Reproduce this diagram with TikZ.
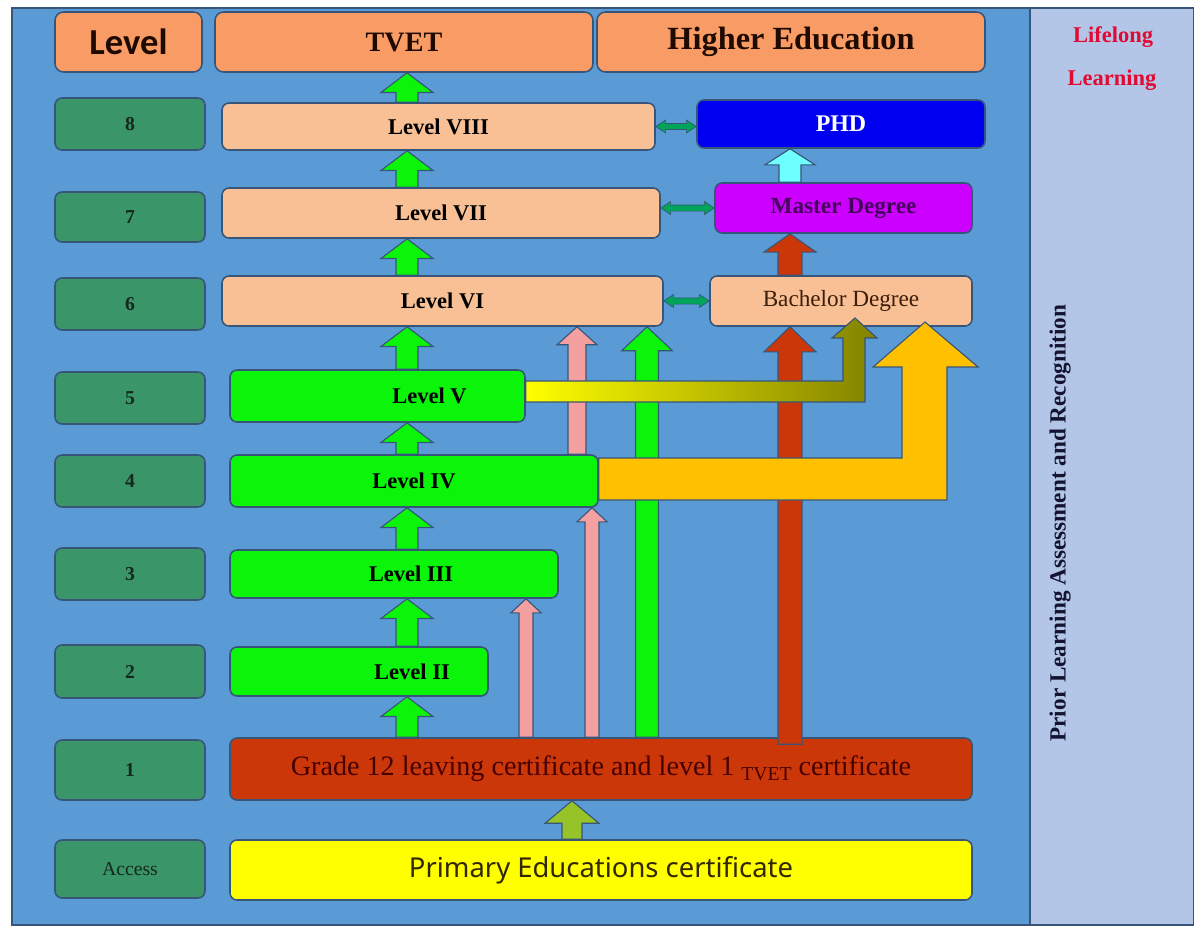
\documentclass[tikz,border=0pt]{standalone}
\usepackage{fontspec}
\setmainfont{Liberation Serif}
\newfontfamily\hdfont{Carlito}
\newfontfamily\primfont{Noto Sans}
\usetikzlibrary{calc}

\definecolor{panelblue}{RGB}{91,155,213}
\definecolor{sidelav}{RGB}{180,198,231}
\definecolor{bordc}{RGB}{55,85,120}
\definecolor{headorange}{RGB}{248,155,100}
\definecolor{numgreen}{RGB}{58,150,105}
\definecolor{peach}{RGB}{248,192,148}
\definecolor{lvlgreen}{RGB}{10,245,10}
\definecolor{certred}{RGB}{204,55,10}
\definecolor{primyellow}{RGB}{255,255,0}
\definecolor{phdblue}{RGB}{0,0,240}
\definecolor{masmag}{RGB}{204,0,255}
\definecolor{pinkarr}{RGB}{245,160,160}
\definecolor{cyanarr}{RGB}{110,255,255}
\definecolor{goldarr}{RGB}{255,192,0}
\definecolor{olivearr}{RGB}{130,130,0}
\definecolor{primarr}{RGB}{150,195,40}
\definecolor{linkgreen}{RGB}{0,165,90}
\definecolor{lllred}{RGB}{225,10,50}

\newcommand{\blockup}[6][]{%
	\filldraw[draw=bordc, line width=0.8pt, #1] let \p1=#2, \p2=#3 in
		(\x1-#4,\y1) -- (\x1-#4,\y2-#6) -- (\x1-#5,\y2-#6) -- (\x1,\y2)
		-- (\x1+#5,\y2-#6) -- (\x1+#4,\y2-#6) -- (\x1+#4,\y1) -- cycle;}
\newcommand{\linkarrow}[2]{%
	\filldraw[fill=linkgreen, draw=bordc, line width=0.5pt] let \p1=#1, \p2=#2 in
		(\x1,\y1) -- (\x1+7pt,\y1+4.6pt) -- (\x1+7pt,\y1+2.2pt) -- (\x2-7pt,\y1+2.2pt)
		-- (\x2-7pt,\y1+4.6pt) -- (\x2,\y1) -- (\x2-7pt,\y1-4.6pt) -- (\x2-7pt,\y1-2.2pt)
		-- (\x1+7pt,\y1-2.2pt) -- (\x1+7pt,\y1-4.6pt) -- cycle;}

\tikzset{
	sz/.style 2 args={minimum width=#1*0.025cm, minimum height=#2*0.025cm},
	box/.style={draw=bordc, line width=1.1pt, rounded corners=5pt, inner sep=0pt},
	head/.style={box, fill=headorange, rounded corners=6pt, text={rgb,255:red,30;green,10;blue,0}},
	numbox/.style={box, fill=numgreen, font=\fontsize{14}{16}\selectfont\bfseries, text={rgb,255:red,20;green,40;blue,30}},
	tvetbox/.style={box, fill=peach, font=\fontsize{16}{19}\selectfont\bfseries},
	lowbox/.style={box, fill=lvlgreen},
	lvltxt/.style={font=\fontsize{16}{19}\selectfont\bfseries},
	lll/.style={font=\fontsize{16}{19}\selectfont\bfseries, text=lllred},
}

\begin{document}
\begin{tikzpicture}[x=0.025cm, y=-0.025cm]
	\useasboundingbox (0,0) rectangle (1194,930);
	\fill[white] (0,0) rectangle (1194,930);
	\filldraw[fill=panelblue, draw=bordc, line width=0.8pt] (12,8) rectangle (1030,925);
	\filldraw[fill=sidelav, draw=bordc, line width=0.8pt] (1030,8) rectangle (1194,925);

	\node[head, sz={147}{60}, font=\hdfont\fontsize{26}{30}\selectfont\bfseries] (hlev) at (128.5,42) {Level};
	\node[head, sz={378}{60}, font=\fontsize{20}{24}\selectfont\bfseries] (htvet) at (404,42) {TVET};
	\node[head, sz={388}{60}, font=\fontsize{23}{27}\selectfont\bfseries] (hhe) at (791,42) {Higher Education};
	\node[lll] (lifelong) at (1113,37) {Lifelong};
	\node[lll] (learning) at (1112,80) {Learning};
	\node[rotate=90, font=\fontsize{16.5}{19}\selectfont\bfseries, text={rgb,255:red,20;green,20;blue,50}] (plar) at (1060,523) {Prior Learning Assessment and Recognition};

	\node[numbox, sz={150}{52}] (n8) at (130,124) {8};
	\node[numbox, sz={150}{50}] (n7) at (130,217) {7};
	\node[numbox, sz={150}{52}] (n6) at (130,304) {6};
	\node[numbox, sz={150}{52}] (n5) at (130,398) {5};
	\node[numbox, sz={150}{52}] (n4) at (130,481) {4};
	\node[numbox, sz={150}{52}] (n3) at (130,574) {3};
	\node[numbox, sz={150}{53}] (n2) at (130,671.5) {2};
	\node[numbox, sz={150}{60}] (n1) at (130,770) {1};
	\node[numbox, sz={150}{58}, font=\fontsize{14}{16}\selectfont\mdseries] (nacc) at (130,869) {Access};

	\node[tvetbox, sz={433}{47}] (l8) at (438.5,126.5) {Level VIII};
	\node[tvetbox, sz={438}{50}] (l7) at (441,213) {Level VII};
	\node[tvetbox, sz={441}{50}] (l6) at (442.5,301) {Level VI};
	\node[lowbox, sz={295}{52}] (l5) at (377.5,396) {};
	\node[lowbox, sz={368}{52}, lvltxt] (l4) at (414,481) {Level IV};
	\node[lowbox, sz={328}{48}] (l3) at (394,574) {};
	\node[lowbox, sz={258}{49}] (l2) at (359,671.5) {};
	\node[lvltxt] (t5) at ($(l5.center)+(52,0)$) {Level V};
	\node[lvltxt] (t3) at ($(l3.center)+(17,0)$) {Level III};
	\node[lvltxt] (t2) at ($(l2.center)+(53,0)$) {Level II};

	\node[box, fill=phdblue, sz={288}{48}, font=\fontsize{17}{20}\selectfont\bfseries, text=white] (phd) at (841,124) {PHD};
	\node[box, fill=masmag, sz={257}{50}, font=\fontsize{16.5}{20}\selectfont\bfseries, text={rgb,255:red,70;green,0;blue,90}] (mas) at (843.5,208) {Master Degree};
	\node[box, fill=peach, sz={262}{50}, font=\fontsize{16.5}{20}\selectfont, text={rgb,255:red,60;green,30;blue,10}] (bach) at (841,301) {Bachelor Degree};

	\node[box, fill=certred, sz={742}{62}, font=\fontsize{20}{24}\selectfont, text={rgb,255:red,70;green,0;blue,0}] (g12) at (601,769) {Grade 12 leaving certificate and level 1 {\fontsize{14}{14}\selectfont\raisebox{-3pt}{TVET}} certificate};
	\node[box, fill=primyellow, sz={742}{60}, font=\primfont\fontsize{19.5}{23}\selectfont, text={rgb,255:red,50;green,40;blue,0}] (prim) at (601,870) {Primary Educations certificate};

	\coordinate (spine) at (407,0);
	\coordinate (entry) at (572,0);
	\coordinate (pinka) at (526,0);
	\coordinate (pinkb) at (592,0);
	\coordinate (pinkc) at (577,0);
	\coordinate (tallg) at (647,0);
	\coordinate (tallr) at (790,0);

	\blockup[fill=lvlgreen]{(spine |- g12.north)}{(spine |- l2.south)}{7.8pt}{18.5pt}{14pt}
	\blockup[fill=lvlgreen]{(spine |- l2.north)}{(spine |- l3.south)}{7.8pt}{18.5pt}{14pt}
	\blockup[fill=lvlgreen]{(spine |- l3.north)}{(spine |- l4.south)}{7.8pt}{18.5pt}{14pt}
	\blockup[fill=lvlgreen]{(spine |- l4.north)}{(spine |- l5.south)}{7.8pt}{18.5pt}{14pt}
	\blockup[fill=lvlgreen]{(spine |- l5.north)}{(spine |- l6.south)}{7.8pt}{18.5pt}{14pt}
	\blockup[fill=lvlgreen]{(spine |- l6.north)}{(spine |- l7.south)}{7.8pt}{18.5pt}{14pt}
	\blockup[fill=lvlgreen]{(spine |- l7.north)}{(spine |- l8.south)}{7.8pt}{18.5pt}{14pt}
	\blockup[fill=lvlgreen]{(spine |- l8.north)}{(spine |- htvet.south)}{7.8pt}{18.5pt}{14pt}
	\blockup[fill=primarr]{(entry |- prim.north)}{(entry |- g12.south)}{7.1pt}{19.2pt}{16pt}

	\blockup[fill=pinkarr]{(pinka |- g12.north)}{(pinka |- l3.south)}{5pt}{10.7pt}{10pt}
	\blockup[fill=pinkarr]{(pinkb |- g12.north)}{(pinkb |- l4.south)}{5pt}{10.7pt}{10pt}
	\blockup[fill=pinkarr]{(pinkc |- l4.north)}{(pinkc |- l6.south)}{6.4pt}{14.2pt}{12.8pt}
	\blockup[fill=lvlgreen]{(tallg |- g12.north)}{(tallg |- l6.south)}{8.2pt}{18pt}{17pt}
	\blockup[fill=certred]{([yshift=-5pt]tallr |- g12.north)}{(tallr |- bach.south)}{8.5pt}{18.5pt}{17.8pt}
	\blockup[fill=certred]{(tallr |- bach.north)}{(tallr |- mas.south)}{8.5pt}{18.5pt}{13pt}
	\blockup[fill=cyanarr]{(tallr |- mas.north)}{(tallr |- phd.south)}{7.8pt}{17.8pt}{11.4pt}

	\shadedraw[left color=primyellow, right color=olivearr, draw=bordc, line width=0.8pt]
		($(l5.east)+(0,-15)$) -- (843,381) -- (843,338) -- (832,338) -- (855,318) -- (877,338)
		-- (865,338) -- (865,402) -- ($(l5.east)+(0,6)$) -- cycle;
	\filldraw[fill=goldarr, draw=bordc, line width=0.8pt]
		($(l4.east)+(0,-23)$) -- (902,458) -- (902,367) -- (873,367) -- (925,322) -- (978,367)
		-- (947,367) -- (947,500) -- ($(l4.east)+(0,19)$) -- cycle;

	\linkarrow{(l8.east)}{(phd.west |- l8.east)}
	\linkarrow{(l7.east |- mas.west)}{(mas.west)}
	\linkarrow{(l6.east)}{(bach.west |- l6.east)}
\end{tikzpicture}
\end{document}
